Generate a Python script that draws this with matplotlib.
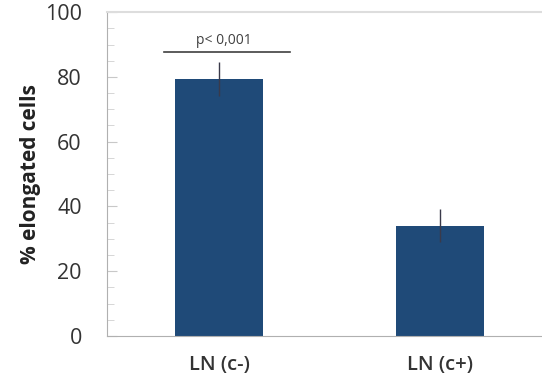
import matplotlib.pyplot as plt
from matplotlib.ticker import MultipleLocator

groups = ['LN (c-)', 'LN (c+)']
values = [79.3, 34.1]
errors = [5.2, 5.1]
sig_text = 'p< 0,001'
sig_level = 87.6

plt.rcParams['font.family'] = ['Open Sans', 'DejaVu Sans']

fig = plt.figure(figsize=(5.42, 3.8), dpi=100)
ax = fig.add_axes([0.197, 0.116, 0.803, 0.852])

x = range(len(groups))
ax.bar(x, values, width=0.4, color='#1f4a78', zorder=2)
ax.errorbar(x, values, yerr=errors, fmt='none', ecolor='#3a3a4a', elinewidth=1, capsize=0, zorder=3)

# significance bar over the first group
ax.plot([-0.25, 0.32], [sig_level, sig_level], color='#404040', lw=1.2)
ax.text(0.02, sig_level + 1.2, sig_text, ha='center', va='bottom', fontsize=10, color='#404040')

ax.set_xlim(-0.507, 1.46)
ax.set_ylim(0, 100)
ax.set_xticks(list(x))
ax.set_xticklabels(groups, fontsize=14.5, fontweight='semibold', color='#333333')
ax.yaxis.set_major_locator(MultipleLocator(20))
ax.yaxis.set_minor_locator(MultipleLocator(5))
ax.tick_params(axis='y', which='major', direction='in', length=7, color='#c8c8c8', pad=18,
               labelsize=15.5, labelcolor='#333333')
ax.tick_params(axis='y', which='minor', direction='in', length=5, color='#d0d0d0')
ax.tick_params(axis='x', length=0, pad=14)
ax.set_ylabel('% elongated cells', fontsize=15, fontweight='bold', color='#222222', labelpad=3)

for s in ['left', 'bottom']:
    ax.spines[s].set_color('#b0b0b0')
ax.spines['top'].set_color('#dddddd')
ax.spines['top'].set_linewidth(1.5)
ax.spines['right'].set_visible(False)

fig.savefig('out.png', dpi=100)
